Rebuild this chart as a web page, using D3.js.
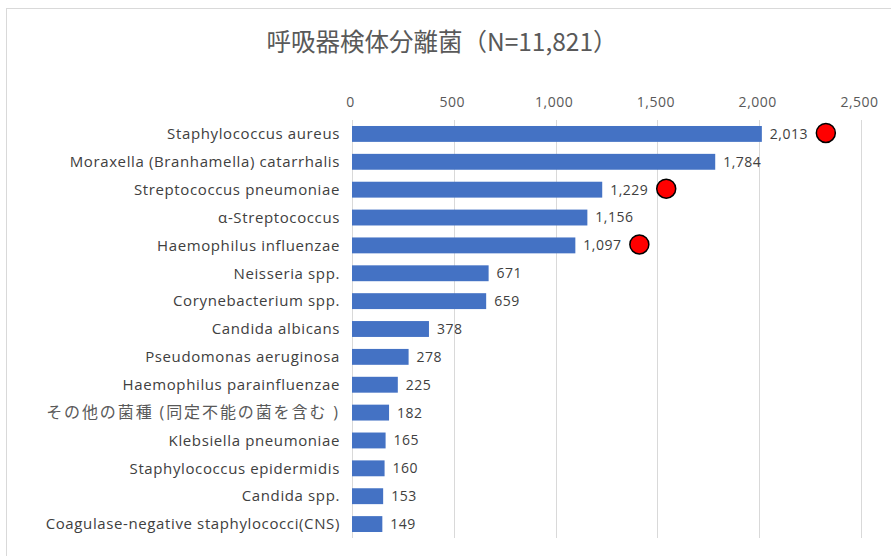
<!DOCTYPE html>
<html>
<head>
<meta charset="utf-8">
<script src="https://cdn.jsdelivr.net/npm/d3@7"></script>
<style>
  body { margin: 0; background: #fff; }
  svg { display: block; }
</style>
</head>
<body>
<div id="chart"></div>
<script>
// Data.
const categories = [
  'Staphylococcus aureus',
  'Moraxella (Branhamella) catarrhalis',
  'Streptococcus pneumoniae',
  'α-Streptococcus',
  'Haemophilus influenzae',
  'Neisseria spp.',
  'Corynebacterium spp.',
  'Candida albicans',
  'Pseudomonas aeruginosa',
  'Haemophilus parainfluenzae',
  'その他の菌種 (同定不能の菌を含む )',
  'Klebsiella pneumoniae',
  'Staphylococcus epidermidis',
  'Candida spp.',
  'Coagulase-negative staphylococci(CNS)'
];
const counts = [2013, 1784, 1229, 1156, 1097, 671, 659, 378, 278, 225, 182, 165, 160, 153, 149];
const marked = ['Staphylococcus aureus', 'Streptococcus pneumoniae', 'Haemophilus influenzae'];
const tickValues = [0, 500, 1000, 1500, 2000, 2500];
const title = '呼吸器検体分離菌（N=11,821）';

const width = 891;
const height = 556;
const latin = "'Open Sans', 'Noto Sans CJK JP', sans-serif";
const cjk = "'Noto Sans CJK JP', sans-serif";
const hasCJK = (s) => /[\u3040-\u9fff]/.test(s);

const data = categories.map((c, i) => ({name: c, value: counts[i]}));

const svg = d3.select('#chart')
  .append('svg')
  .attr('width', width)
  .attr('height', height);

// Chart border.
svg.append('rect')
  .attr('x', 6.5)
  .attr('y', 8.5)
  .attr('width', width)
  .attr('height', height)
  .attr('fill', 'none')
  .attr('stroke', '#d9d9d9');

const xScale = d3.scaleLinear()
  .domain([0, 2500])
  .range([352, 861]);

const yScale = d3.scaleBand()
  .domain(categories)
  .range([120, 538])
  .paddingInner(0.43)
  .paddingOuter(0.215);

// Gridlines.
svg.append('g')
  .attr('class', 'grid')
  .selectAll('line')
  .data(tickValues)
  .enter()
  .append('line')
  .attr('x1', (d) => Math.round(xScale(d)) + 0.5)
  .attr('x2', (d) => Math.round(xScale(d)) + 0.5)
  .attr('y1', 120)
  .attr('y2', 538)
  .attr('stroke', '#d9d9d9')
  .attr('stroke-width', 1);

// Top axis (labels only).
const xAxis = d3.axisTop(xScale)
  .tickValues(tickValues)
  .tickFormat(d3.format(','))
  .tickSize(0)
  .tickPadding(0);

const gx = svg.append('g')
  .attr('id', 'x-axis')
  .attr('transform', 'translate(-2, 107)')
  .call(xAxis);
gx.select('.domain').remove();
gx.selectAll('text')
  .style('font-family', latin)
  .style('font-size', '14px')
  .style('letter-spacing', '0.5px')
  .attr('fill', '#595959');

// Bars.
svg.append('g')
  .selectAll('rect')
  .data(data)
  .enter()
  .append('rect')
  .attr('x', xScale(0))
  .attr('y', (d) => yScale(d.name))
  .attr('width', (d) => xScale(d.value) - xScale(0))
  .attr('height', yScale.bandwidth())
  .attr('fill', '#4472c4');

// Category labels.
svg.append('g')
  .selectAll('text')
  .data(data)
  .enter()
  .append('text')
  .attr('x', 340)
  .attr('y', (d) => yScale(d.name) + yScale.bandwidth() / 2)
  .attr('dy', '0.35em')
  .attr('text-anchor', 'end')
  .style('font-family', latin)
  .style('font-size', (d) => hasCJK(d.name) ? '16px' : '15px')
  .style('letter-spacing', (d) => hasCJK(d.name) ? '1.9px' : '0.62px')
  .attr('fill', (d) => hasCJK(d.name) ? '#595959' : '#404040')
  .text((d) => d.name);

// Value labels.
svg.append('g')
  .selectAll('text')
  .data(data)
  .enter()
  .append('text')
  .attr('x', (d) => xScale(d.value) + 8)
  .attr('y', (d) => yScale(d.name) + yScale.bandwidth() / 2)
  .attr('dy', '0.35em')
  .style('font-family', latin)
  .style('font-size', '14px')
  .style('letter-spacing', '0.5px')
  .attr('fill', '#404040')
  .text((d) => d3.format(',')(d.value));

// Red circle markers.
svg.append('g')
  .selectAll('circle')
  .data(data.filter((d) => marked.includes(d.name)))
  .enter()
  .append('circle')
  .attr('cx', (d) => xScale(d.value) + 64)
  .attr('cy', (d) => yScale(d.name) + yScale.bandwidth() / 2 - 1)
  .attr('r', 9.5)
  .attr('fill', '#ff0000')
  .attr('stroke', '#000')
  .attr('stroke-width', 1.5);

// Title.
svg.append('text')
  .attr('id', 'title')
  .attr('x', 442)
  .attr('y', 51)
  .attr('text-anchor', 'middle')
  .style('font-family', cjk)
  .style('font-size', '24.5px')
  .attr('fill', '#595959')
  .text(title);
</script>
</body>
</html>
